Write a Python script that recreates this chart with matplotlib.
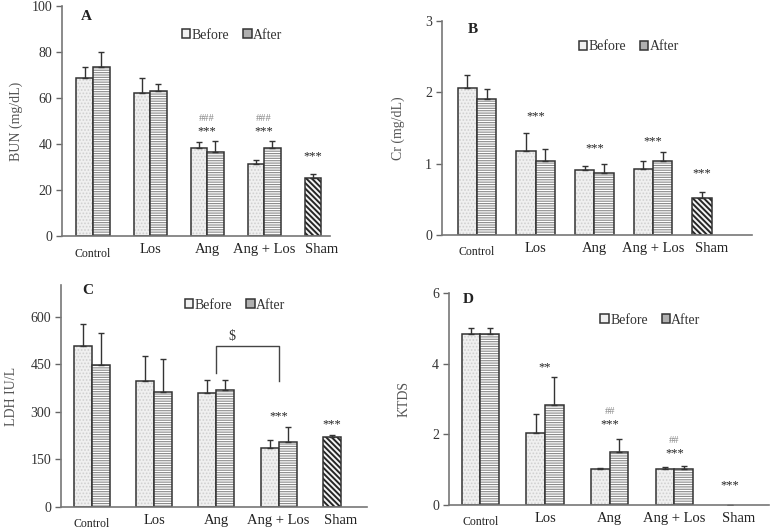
import numpy as np
import matplotlib.pyplot as plt
from matplotlib.patches import Patch

plt.rcParams['font.family'] = ['Liberation Serif', 'DejaVu Serif']
plt.rcParams['hatch.linewidth'] = 0.8

groups = ['Control', 'Los', 'Ang', 'Ang + Los', 'Sham']

# panel A - BUN
bun_before = [68.8, 62.0, 38.1, 31.2, 25.2]
bun_before_err = [4.5, 6.5, 2.8, 1.7, 1.8]
bun_after = [73.6, 62.9, 36.7, 38.4]
bun_after_err = [6.5, 3.0, 4.7, 2.9]

# panel B - Cr
cr_before = [2.06, 1.18, 0.91, 0.93, 0.52]
cr_before_err = [0.19, 0.25, 0.06, 0.11, 0.08]
cr_after = [1.90, 1.04, 0.87, 1.04]
cr_after_err = [0.15, 0.17, 0.13, 0.13]

# panel C - LDH
ldh_before = [509, 398, 361, 185, 220]
ldh_before_err = [69, 77, 40, 26, 7]
ldh_after = [449, 363, 370, 205]
ldh_after_err = [100, 104, 31, 48]

# panel D - KTDS
ktds_before = [4.83, 2.03, 1.03, 1.02, 0.0]
ktds_before_err = [0.19, 0.54, 0.02, 0.05, 0.0]
ktds_after = [4.83, 2.83, 1.51, 1.02]
ktds_after_err = [0.19, 0.80, 0.37, 0.07]

# significance marks: (group, y, text, colour)
marks_a = [(2, 45.5, '***', '#222222'), (2, 51.0, '###', '#888888'),
           (3, 45.5, '***', '#222222'), (3, 51.0, '###', '#888888'),
           (4, 34.5, '***', '#222222')]
marks_b = [(1, 1.66, '***', '#222222'), (2, 1.22, '***', '#222222'),
           (3, 1.31, '***', '#222222'), (4, 0.86, '***', '#222222')]
marks_c = [(3, 285, '***', '#222222'), (4, 261, '***', '#222222')]
marks_d = [(1, 3.90, '**', '#222222'), (2, 2.27, '***', '#222222'),
           (2, 2.64, '##', '#888888'), (3, 1.47, '***', '#222222'),
           (3, 1.83, '##', '#888888'), (4, 0.57, '***', '#222222')]

# bracket in panel C
bracket_x = [2, 3]
bracket_top = 507
bracket_feet = [422, 398]

fig = plt.figure(figsize=(7.71, 5.31), dpi=100)

panels = [
    dict(rect=[0.0804, 0.5556, 0.348, 0.433], xlim=(-0.544, 4.16), w=0.29,
         ylim=(0, 100), yticks=[0, 20, 40, 60, 80, 100], ylabel='BUN (mg/dL)',
         before=bun_before, berr=bun_before_err, after=bun_after, aerr=bun_after_err,
         marks=marks_a, letter='A', letter_xy=(0.07, 0.955), leg=(0.634, 0.874),
         ylab_x=-0.145),
    dict(rect=[0.573, 0.5574, 0.402, 0.403], xlim=(-0.6, 4.68), w=0.33,
         ylim=(0, 3), yticks=[0, 1, 2, 3], ylabel='Cr (mg/dL)',
         before=cr_before, berr=cr_before_err, after=cr_after, aerr=cr_after_err,
         marks=marks_b, letter='B', letter_xy=(0.085, 0.96), leg=(0.603, 0.879),
         ylab_x=-0.12),
    dict(rect=[0.079, 0.0452, 0.397, 0.418], xlim=(-0.5, 4.42), w=0.29,
         ylim=(0, 700), yticks=[0, 150, 300, 450, 600], ylabel='LDH IU/L',
         before=ldh_before, berr=ldh_before_err, after=ldh_after, aerr=ldh_after_err,
         marks=marks_c, letter='C', letter_xy=(0.07, 0.975), leg=(0.569, 0.91),
         ylab_x=-0.14),
    dict(rect=[0.582, 0.049, 0.416, 0.399], xlim=(-0.49, 4.47), w=0.29,
         ylim=(0, 6), yticks=[0, 2, 4, 6], ylabel='KTDS',
         before=ktds_before, berr=ktds_before_err, after=ktds_after, aerr=ktds_after_err,
         marks=marks_d, letter='D', letter_xy=(0.045, 0.97), leg=(0.629, 0.873),
         ylab_x=-0.12),
]

edge = '#333333'
axes = []
for p in panels:
    ax = fig.add_axes(p['rect'])
    axes.append(ax)
    w = p['w']
    x = np.arange(len(groups))
    xb = x - w / 2
    xa = x[:len(p['after'])] + w / 2
    sham = len(groups) - 1

    # before bars (stippled), sham gets diagonal hatch
    ax.bar(xb[:sham], p['before'][:sham], w, color='#f0f0f0', edgecolor='#d0d0d0',
           hatch='.....', linewidth=0)
    ax.bar(xb[:sham], p['before'][:sham], w, fill=False, edgecolor=edge, linewidth=1.1)
    ax.bar(xa, p['after'], w, color='white', edgecolor='#8a8a8a', hatch='-------',
           linewidth=0)
    ax.bar(xa, p['after'], w, fill=False, edgecolor=edge, linewidth=1.1)
    if p['before'][sham] > 0:
        sb = ax.bar(xb[sham], p['before'][sham], w, color='#f4f4f4', edgecolor='#252525',
                    hatch='\\' * 6, linewidth=0)
        for patch in sb:
            if hasattr(patch, 'set_hatch_linewidth'):
                patch.set_hatch_linewidth(1.4)
        ax.bar(xb[sham], p['before'][sham], w, fill=False, edgecolor=edge, linewidth=1.1)

    # upper error bars only
    berr = np.array(p['berr'])
    aerr = np.array(p['aerr'])
    ax.errorbar(xb, p['before'], yerr=[np.zeros_like(berr), berr], fmt='none',
                ecolor=edge, elinewidth=1.0, capsize=2.5, capthick=1.0)
    ax.errorbar(xa, p['after'], yerr=[np.zeros_like(aerr), aerr], fmt='none',
                ecolor=edge, elinewidth=1.0, capsize=2.5, capthick=1.0)

    for g, yv, txt, col in p['marks']:
        xx = xb[g] if g == sham else x[g]
        fs = 7.5 if '#' in txt else 9
        ax.text(xx, yv, txt, ha='center', va='center', fontsize=fs, color=col)

    ax.set_xlim(*p['xlim'])
    ax.set_ylim(*p['ylim'])
    ax.set_yticks(p['yticks'])
    ax.set_xticks(x)
    ax.set_xticklabels(groups)
    for lab in ax.get_xticklabels():
        if lab.get_text() == 'Control':
            lab.set_fontsize(8.5)
            lab.set_y(-0.02)
        else:
            lab.set_fontsize(10.5)
        lab.set_color('#222222')
    ax.tick_params(axis='x', length=0, pad=5)
    ax.tick_params(axis='y', length=4, width=1, color='#666666', labelsize=10,
                   labelcolor='#333333', pad=3)
    for s in ['top', 'right']:
        ax.spines[s].set_visible(False)
    for s in ['left', 'bottom']:
        ax.spines[s].set_color('#777777')
        ax.spines[s].set_linewidth(1.2)
    ax.set_ylabel(p['ylabel'], fontsize=10, color='#555555')
    ax.yaxis.set_label_coords(p['ylab_x'], 0.5)

    ax.text(p['letter_xy'][0], p['letter_xy'][1], p['letter'], transform=ax.transAxes,
            fontsize=11, fontweight='bold', ha='left', va='center', color='#222222')

    handles = [Patch(facecolor='#f0f0f0', edgecolor=edge, linewidth=1.1),
               Patch(facecolor='#b0b0b0', edgecolor=edge, linewidth=1.1)]
    ax.legend(handles, ['Before', 'After'], loc='center', bbox_to_anchor=p['leg'],
              ncol=2, frameon=False, fontsize=10, handlelength=0.6, handleheight=0.6,
              handletextpad=0.1, columnspacing=1.0, labelcolor='#333333')

# bracket with "$" in panel C
axc = axes[2]
axc.plot([bracket_x[0], bracket_x[0], bracket_x[1], bracket_x[1]],
         [bracket_feet[0], bracket_top, bracket_top, bracket_feet[1]],
         color='#444444', lw=1.0)
axc.text(2.25, 539, '$', ha='center', va='center', fontsize=10, color='#333333')

fig.savefig('out.png', dpi=100)
